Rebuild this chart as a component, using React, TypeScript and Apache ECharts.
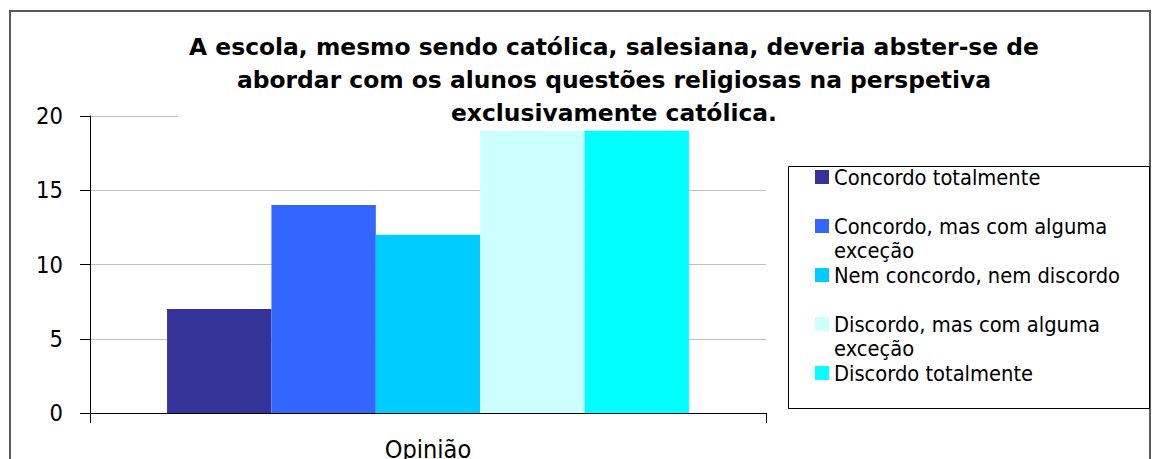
import React, { useEffect, useRef } from "react";
import * as echarts from "echarts";

const titleLines = [
  "A escola, mesmo sendo católica, salesiana, deveria abster-se de",
  "abordar com os alunos questões religiosas na perspetiva",
  "exclusivamente católica.",
];
const categories = ["Opinião"];
const seriesNames = [
  "Concordo totalmente",
  "Concordo, mas com alguma exceção",
  "Nem concordo, nem discordo",
  "Discordo, mas com alguma exceção",
  "Discordo totalmente",
];
const seriesValues = [7, 14, 12, 19, 19];
const seriesColors = ["#333399", "#3366FF", "#00CCFF", "#CCFFFF", "#00FFFF"];
const yTicks = { min: 0, max: 20, interval: 5 };

const FONT = "'DejaVu Sans Condensed', 'DejaVu Sans', sans-serif";
const TITLE_FONT = "'DejaVu Sans', sans-serif";
const LINE = 24;
const LEG_SIZE = 21.7;

function legendLabel(name: string): string {
  const cut = "mas com alguma";
  const i = name.indexOf(cut);
  if (i >= 0) {
    const a = name.slice(0, i + cut.length);
    const b = name.slice(i + cut.length + 1);
    return `{p| }\n{t|${a}}\n{t|${b}}`;
  }
  return `{t|${name}}`;
}

export default function App() {
  const ref = useRef<HTMLDivElement>(null);
  useEffect(() => {
    if (!ref.current) return;
    const chart = echarts.init(ref.current, undefined, { renderer: "svg" });
    const titlePad = 11;
    chart.setOption({
      animation: false,
      backgroundColor: "#ffffff",
      title: {
        text: titleLines.join("\n"),
        left: 614 - titlePad,
        top: 30,
        textAlign: "center",
        padding: [0, titlePad, 0, titlePad],
        backgroundColor: "#ffffff",
        textStyle: {
          fontFamily: TITLE_FONT,
          fontWeight: "bold",
          fontSize: 23.4,
          lineHeight: 33,
          color: "#000000",
        },
      },
      graphic: [
        {
          type: "rect",
          shape: { x: 10, y: 11, width: 1140, height: 470 },
          style: { fill: "none", stroke: "#595959", lineWidth: 2 },
          z: -1,
        },
        {
          type: "rect",
          shape: { x: 788.5, y: 166.5, width: 361, height: 242 },
          style: { fill: "none", stroke: "#000000", lineWidth: 1 },
        },
      ],
      legend: {
        orient: "vertical",
        left: 815,
        top: 166,
        padding: 0,
        itemWidth: 14,
        itemHeight: 14,
        itemGap: 3,
        icon: "rect",
        data: seriesNames,
        formatter: legendLabel,
        textStyle: {
          fontFamily: FONT,
          fontSize: LEG_SIZE,
          color: "#000000",
          rich: {
            p: { fontSize: LEG_SIZE, lineHeight: LINE, fontFamily: FONT },
            t: { fontSize: LEG_SIZE, lineHeight: LINE, fontFamily: FONT, color: "#000000" },
          },
        },
      },
      grid: {
        left: 90,
        right: 386,
        top: 116,
        bottom: 46,
        containLabel: false,
        outerBoundsMode: "none",
      },
      xAxis: {
        type: "category",
        data: categories,
        axisLine: { show: true, lineStyle: { color: "#000000", width: 1 } },
        axisTick: { show: true, length: 10, lineStyle: { color: "#000000" } },
        axisLabel: {
          margin: 24,
          fontFamily: FONT,
          fontSize: 25,
          color: "#000000",
        },
      },
      yAxis: {
        type: "value",
        min: yTicks.min,
        max: yTicks.max,
        interval: yTicks.interval,
        axisLine: { show: true, lineStyle: { color: "#000000", width: 1 } },
        axisTick: { show: true, length: 10, lineStyle: { color: "#000000" } },
        axisLabel: {
          margin: 27,
          fontFamily: FONT,
          fontSize: 23.5,
          color: "#000000",
        },
        splitLine: { show: true, lineStyle: { color: "#c0c0c0", width: 1 } },
      },
      series: seriesNames.map((name, i) => ({
        name,
        type: "bar",
        data: [seriesValues[i]],
        barGap: "0%",
        barCategoryGap: "22.8%",
        itemStyle: { color: seriesColors[i] },
      })),
    });
    return () => chart.dispose();
  }, []);
  return (
    <div
      ref={ref}
      style={{ position: "absolute", left: 0, top: 0, width: 1152, height: 459 }}
    />
  );
}
